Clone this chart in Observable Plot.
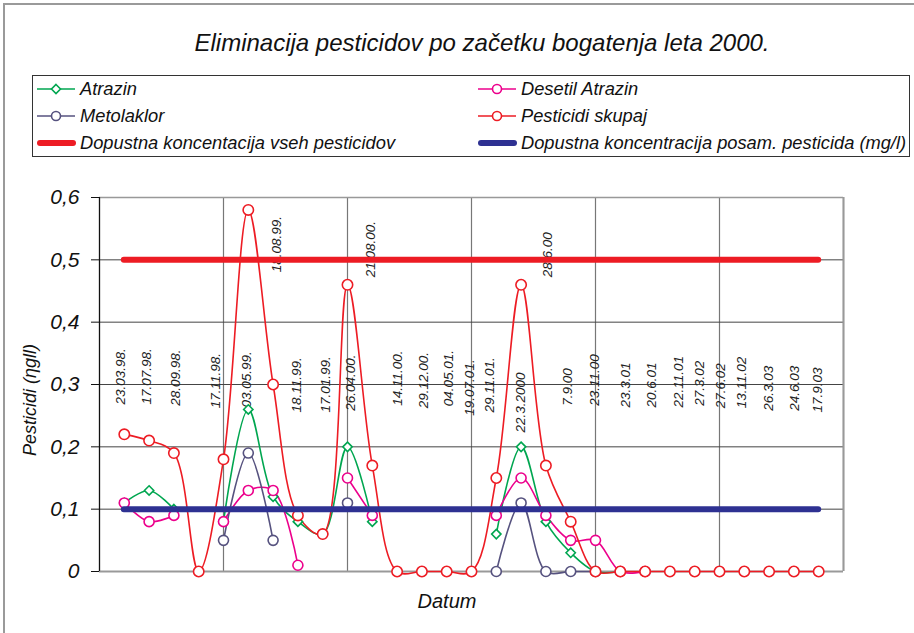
<!DOCTYPE html>
<html>
<head>
<meta charset="utf-8">
<script src="https://cdn.jsdelivr.net/npm/d3@7"></script>
<script src="https://cdn.jsdelivr.net/npm/@observablehq/plot@0.6"></script>
<style>
  html, body { margin: 0; padding: 0; background: #fff; }
  body { width: 914px; height: 633px; position: relative; overflow: hidden; font-family: "Liberation Sans", Arial, sans-serif; font-style: italic; color: #111; }
  #frame { position: absolute; left: 3px; top: 3px; width: 940px; height: 660px; border: 2px solid #9a9a9a; box-sizing: border-box; }
  #title { position: absolute; left: 0; top: 29px; width: 964px; text-align: center; font-size: 24px; }
  #legend { position: absolute; left: 32px; top: 75px; width: 878px; height: 82px; border: 1px solid #333; box-sizing: border-box; }
  .item { position: absolute; font-size: 18.3px; height: 20px; line-height: 20px; white-space: nowrap; }
  .item svg { position: absolute; left: 0; top: 0; }
  .item span { position: absolute; left: 43px; top: 0; }
  #chart { position: absolute; left: 0; top: 165px; }
  #ylabel { position: absolute; left: 30px; top: 400px; transform: translate(-50%, -50%) rotate(-90deg); font-size: 18px; white-space: nowrap; }
  #xlabel { position: absolute; left: 447px; top: 601px; transform: translate(-50%, -50%); font-size: 20px; }
</style>
</head>
<body>
<div id="frame"></div>
<div id="title">Eliminacija pesticidov po začetku bogatenja leta 2000.</div>
<div id="legend"></div>
<div id="chart"></div>
<div id="ylabel">Pesticidi (ηgll)</div>
<div id="xlabel">Datum</div>
<script>
// ---- data ----
const categories = [1,2,3,4,5,6,7,8,9,10,11,12,13,14,15,16,17,18,19,20,21,22,23,24,25,26,27,28,29];
const atrazin   = [0.11,0.13,0.10,null,0.08,0.26,0.12,0.08,0.06,0.20,0.08,null,null,null,null,0.06,0.20,0.08,0.03,0,0,null,null,null,null,null,null,null,null];
const desetil   = [0.11,0.08,0.09,null,0.08,0.13,0.13,0.01,null,0.15,0.09,null,null,null,null,0.09,0.15,0.09,0.05,0.05,0,0,null,null,null,null,null,null,null];
const metolaklor= [null,null,null,null,0.05,0.19,0.05,null,null,0.11,null,null,null,null,null,0,0.11,0,0,0,null,null,null,null,null,null,null,null,null];
const skupaj    = [0.22,0.21,0.19,0,0.18,0.58,0.30,0.09,0.06,0.46,0.17,0,0,0,0,0.15,0.46,0.17,0.08,0,0,0,0,0,0,0,0,0,0];
const limitAll = 0.5;      // Dopustna koncentacija vseh pesticidov
const limitSingle = 0.1;   // Dopustna koncentracija posam. pesticida
const dateLabels = ["23.03.98.","17.07.98.","28.09.98.","17.11.98.","03.05.99.","18.08.99.","18.11.99.","17.01.99.","26.04.00.","21.08.00.","14.11.00.","29.12.00.","04.05.01.","19.07.01.","29.11.01.","22.3.2000","28.6.00","7.9.00","23.11.00","23.3.01","20.6.01","22.11.01","27.3.02","27.6.02","13.11.02","26.3.03","24.6.03","17.9.03"];
const dateLabelX = [0.85,1.9,3.06,4.68,5.93,7.14,7.94,9.11,10.12,10.93,12.02,13.06,14.07,14.92,15.73,16.98,18.06,18.87,19.96,21.2,22.26,23.35,24.19,25.04,25.89,26.98,28.02,28.95];
const dateLabelY = [0.268,0.268,0.266,0.262,0.263,0.48,0.255,0.255,0.258,0.472,0.266,0.262,0.265,0.25,0.255,0.223,0.472,0.266,0.266,0.263,0.263,0.263,0.266,0.262,0.262,0.258,0.258,0.255];
const yTicks = [0,0.1,0.2,0.3,0.4,0.5,0.6];
const xGrid = [0,5,10,15,20,25,30];

const C = {green:"#00a650", pink:"#ec008c", purple:"#56527f", red:"#ed1c24", blue:"#2e3192"};

const series = [
  {name:"Atrazin", values:atrazin, color:C.green, symbol:"diamond2", r:4.2},
  {name:"Desetil Atrazin", values:desetil, color:C.pink, symbol:"circle", r:5},
  {name:"Metolaklor", values:metolaklor, color:C.purple, symbol:"circle", r:5},
  {name:"Pesticidi skupaj", values:skupaj, color:C.red, symbol:"circle", r:5.2}
];

const labelRows = dateLabels.map((t,i)=>({t, x:dateLabelX[i], y:dateLabelY[i]}));

const marks = [
  Plot.ruleX(xGrid, {stroke:"#777", strokeWidth:1.2}),
  Plot.ruleY(yTicks.filter(v=>v>0 && v<0.6), {stroke:"#444", strokeWidth:1}),
  Plot.ruleY([0.6], {stroke:"#999", strokeWidth:1.5}),
  Plot.ruleY([0], {stroke:"#999", strokeWidth:2.2}),
  Plot.ruleX([30], {stroke:"#999", strokeWidth:2}),
  Plot.text(labelRows, {x:"x", y:"y", text:"t", rotate:-90, textAnchor:"start", fontSize:13.5, fontStyle:"italic", fill:"#222"}),
];
for (const s of series) {
  const rows = categories.map((c,i)=>({x:c, y:s.values[i]}));
  marks.push(Plot.line(rows, {x:"x", y:"y", stroke:s.color, strokeWidth:1.6, curve:"catmull-rom"}));
}
for (const s of series) {
  const rows = categories.map((c,i)=>({x:c, y:s.values[i]})).filter(d=>d.y!=null);
  marks.push(Plot.dot(rows, {x:"x", y:"y", stroke:s.color, fill:"white", strokeWidth:1.6, r:s.r, symbol:s.symbol}));
}
marks.push(
  Plot.ruleY([limitAll], {x1:categories[0], x2:categories[categories.length-1], stroke:C.red, strokeWidth:6, strokeLinecap:"round"}),
  Plot.ruleY([limitSingle], {x1:categories[0], x2:categories[categories.length-1], stroke:C.blue, strokeWidth:6, strokeLinecap:"round"}),
  Plot.axisY({ticks:yTicks, tickSize:8, tickPadding:12, tickFormat:d=>String(d).replace(".", ","), fontSize:21, fontStyle:"italic", label:null, stroke:"#111"}),
  Plot.ruleX([0], {stroke:"#111", strokeWidth:1.2})
);

const chart = Plot.plot({
  width: 914, height: 460,
  marginLeft: 99, marginRight: 71, marginTop: 32, marginBottom: 54,
  x: {domain:[0,30], axis:null},
  y: {domain:[0,0.6]},
  style: {fontFamily:"'Liberation Sans', Arial, sans-serif", overflow:"visible", background:"transparent"},
  marks
});
document.getElementById("chart").appendChild(chart);

// ---- legend ----
const legendItems = [
  {name:"Atrazin", color:C.green, symbol:"diamond", left:4, top:3},
  {name:"Desetil Atrazin", color:C.pink, symbol:"circle", left:445, top:3},
  {name:"Metolaklor", color:C.purple, symbol:"circle", left:4, top:30},
  {name:"Pesticidi skupaj", color:C.red, symbol:"circle", left:445, top:30},
  {name:"Dopustna koncentacija vseh pesticidov", color:C.red, symbol:"thick", left:4, top:57},
  {name:"Dopustna koncentracija posam. pesticida (mg/l)", color:C.blue, symbol:"thick", left:445, top:57}
];
const lg = document.getElementById("legend");
for (const it of legendItems) {
  const d = document.createElement("div");
  d.className = "item";
  d.style.left = it.left + "px"; d.style.top = it.top + "px";
  let icon;
  if (it.symbol === "thick") icon = `<line x1="3" y1="10" x2="36" y2="10" stroke="${it.color}" stroke-width="6" stroke-linecap="round"/>`;
  else if (it.symbol === "diamond") icon = `<line x1="0" y1="10" x2="38" y2="10" stroke="${it.color}" stroke-width="1.6"/><path d="M19 5.5 L23.5 10 L19 14.5 L14.5 10 Z" fill="white" stroke="${it.color}" stroke-width="1.6"/>`;
  else icon = `<line x1="0" y1="10" x2="38" y2="10" stroke="${it.color}" stroke-width="1.6"/><circle cx="19" cy="10" r="4.5" fill="white" stroke="${it.color}" stroke-width="1.6"/>`;
  d.innerHTML = `<svg width="40" height="20">${icon}</svg><span>${it.name}</span>`;
  lg.appendChild(d);
}
</script>
</body>
</html>
